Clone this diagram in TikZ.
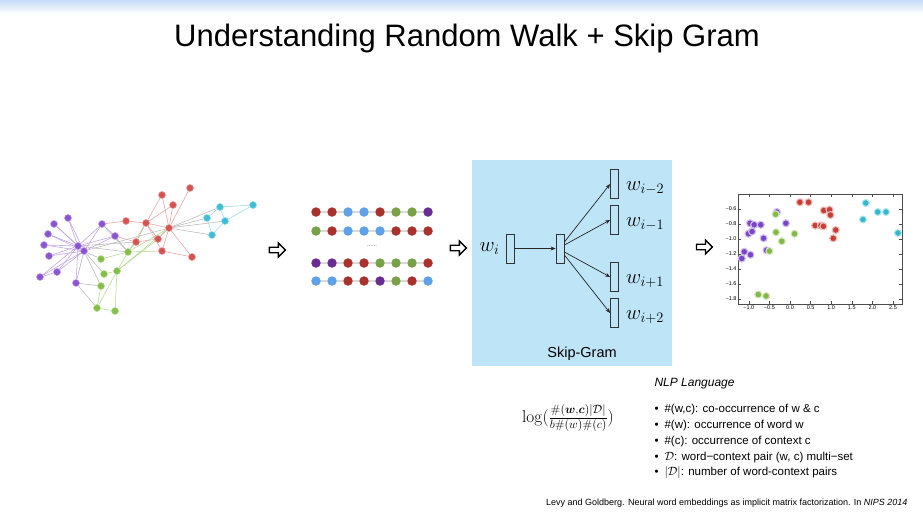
\documentclass[tikz,border=0pt]{standalone}
\usepackage{amsmath, amssymb, bm}
\usepackage[no-math]{fontspec}
\setmainfont{Liberation Sans}
\usepackage{tikz}
\usetikzlibrary{shapes.arrows, arrows.meta, positioning, calc, backgrounds}
\definecolor{gpurple}{RGB}{138,84,208}
\definecolor{gred}{RGB}{214,82,78}
\definecolor{gcyan}{RGB}{62,190,214}
\definecolor{ggreen}{RGB}{132,190,72}
\definecolor{sred}{RGB}{168,50,45}
\definecolor{sblue}{RGB}{96,160,230}
\definecolor{sgreen}{RGB}{122,160,74}
\definecolor{spurple}{RGB}{106,45,145}
\definecolor{ppurple}{RGB}{122,70,200}
\definecolor{pgreen}{RGB}{130,185,70}
\definecolor{pred}{RGB}{200,62,52}
\definecolor{pcyan}{RGB}{50,185,205}
\definecolor{boxblue}{RGB}{190,228,248}
\definecolor{topblue}{RGB}{198,220,248}

\begin{document}
\begin{tikzpicture}[x=1pt, y=-1pt,
    gnode/.style={circle, fill=#1, draw=#1!55!white, line width=0.6pt, inner sep=0pt, minimum size=7pt},
    gedge/.style={draw=#1, line width=0.55pt},
    sdot/.style={circle, fill=#1, inner sep=0pt, minimum size=9.5pt},
    seqline/.style={draw=gray!30, line width=2pt},
    pdot/.style={circle, fill=#1, draw=#1!35!white, line width=1.1pt, inner sep=0pt, minimum size=7pt},
    harrow/.style={single arrow, draw=black, fill=white, line width=1.3pt, minimum height=16pt,
      minimum width=14pt, single arrow head extend=2.5pt, inner sep=1pt},
    vec/.style={draw=black!80, line width=0.8pt, minimum width=8pt, minimum height=29pt, inner sep=0pt},
    link/.style={-{Stealth[length=5pt, width=4pt]}, line width=0.7pt, black!85},
    wlab/.style={font=\fontsize{21}{24}\selectfont, inner sep=0pt},
    every node/.style={font=\fontsize{11.5}{14}\selectfont}]
  \useasboundingbox (0,0) rectangle (923,515);
  \shade[top color=topblue, bottom color=white] (0,0) rectangle (923,14);
  \node[font=\fontsize{31}{36}\selectfont] (title) at (467,38) {Understanding Random Walk + Skip Gram};

  \foreach \n/\x/\y/\c in {pa/68/218/gpurple, pb/54/224/gpurple, pc/48/234/gpurple, pd/44/245/gpurple,
      pe/49/256/gpurple, pf/40/277/gpurple, pg/57/272/gpurple, ph/76/283/gpurple, h1/78/246/gpurple,
      h2/84/251/gpurple, pi/102/224/gpurple, pj/115/236/gpurple,
      ra/126/221/gred, rb/146/223/gred, rc/162/195/gred, rd/173/205/gred, re/190/188/gred,
      h3/169/228/gred, rf/158/239/gred, rg/136/242/gred, rh/162/251/gred, ri/192/257/gred,
      ca/220/207/gcyan, cb/253/205/gcyan, cc/207/218/gcyan, cd/225/221/gcyan, ce/212/235/gcyan,
      ga/128/252/ggreen, gb/101/259/ggreen, gc/117/271/ggreen, gd/104/274/ggreen, ge/101/286/ggreen,
      gf/97/308/ggreen, gg/115/311/ggreen}
    \node[gnode=\c] (\n) at (\x,\y) {};
  \begin{scope}[on background layer]
    \foreach \a/\b in {h1/pa, h1/pb, h1/pc, h1/pd, h1/pe, h1/pf, h1/pg, h1/ph, h1/pi, h1/pj, h2/pa, h2/pb,
        h2/pc, h2/pd, h2/pe, h2/pf, h2/pg, h2/ph, h2/pi, h2/pj, pf/pg, pi/pj}
      \draw[gedge=gpurple!55] (\a) -- (\b);
    \foreach \a/\b in {ra/rb, rb/rc, rb/h3, rb/rf, rb/rh, rb/rg, h3/rc, h3/rd, h3/re, h3/rf, h3/rh, h3/ri,
        rh/ri, rd/rb, rg/rf, ra/pi, rg/pj}
      \draw[gedge=gred!55] (\a) -- (\b);
    \foreach \a/\b in {ca/cb, ca/cc, ca/cd, cc/ce, cd/ce, cb/cd}
      \draw[gedge=gcyan!55] (\a) -- (\b);
    \foreach \a/\b in {ga/gb, ga/gc, gc/gf, gc/gg, gf/gg, gd/gc, ge/gf, ga/rh, ga/rb, ga/h3, gc/h3, gc/rf, ga/rg}
      \draw[gedge=ggreen!60] (\a) -- (\b);
    \foreach \a/\b in {h3/ca, h3/cc, h3/cd, h3/ce, h2/gb, h2/gd, h2/ge, h1/ga, h2/h3, ph/gf, ph/ge, pj/ga,
        h1/rg, pi/ga}
      \draw[gedge=gray!55] (\a) -- (\b);
  \end{scope}

  \node[harrow] (arr1) at (276,250) {};
  \node[harrow] (arr2) at (457,248) {};
  \node[harrow] (arr3) at (703,247) {};

  \foreach \y/\cols [count=\r] in {212/{sred,sred,sblue,sblue,sred,sgreen,sgreen,spurple},
      231/{sgreen,sred,sblue,sblue,sblue,sred,sred,sred},
      263/{spurple,spurple,sred,sred,sgreen,sgreen,sgreen,sred},
      281/{sblue,sblue,sred,sred,spurple,sgreen,sred,sblue}}
    \foreach \c [count=\k] in \cols
      \node[sdot=\c] (s\r-\k) at ({300+16*\k},\y) {};
  \begin{scope}[on background layer]
    \foreach \r in {1,...,4}
      \foreach \k [count=\n from 2] in {1,...,7}
        \draw[seqline] (s\r-\k) -- (s\r-\n);
  \end{scope}
  \node[font=\fontsize{6}{6}\selectfont, text=black!65] (gap) at (372,246) {......};

  \node[fill=boxblue, minimum width=200pt, minimum height=206pt, inner sep=0pt] (sgbox) at (572,263) {};
  \node[vec] (win) at (510,248.5) {};
  \node[vec] (hid) at (560,248.5) {};
  \node[vec] (o1) at (614.5,184) {};
  \node[vec] (o2) at (614.5,220) {};
  \node[vec] (o3) at (614.5,277) {};
  \node[vec] (o4) at (614.5,313) {};
  \draw[link] (win.east) -- (hid.west);
  \draw[link] ([yshift=6.5pt]hid.east) -- (o1.west);
  \draw[link] ([yshift=3.5pt]hid.east) -- (o2.west);
  \draw[link] ([yshift=-3.5pt]hid.east) -- (o3.west);
  \draw[link] ([yshift=-6.5pt]hid.east) -- (o4.west);
  \node[wlab, left=6pt of win] (lwi) {$w_i$};
  \node[wlab, right=7pt of o1, yshift=-4pt] (l1) {$w_{i-2}$};
  \node[wlab, right=7pt of o2, yshift=-4pt] (l2) {$w_{i-1}$};
  \node[wlab, right=7pt of o3, yshift=-4pt] (l3) {$w_{i+1}$};
  \node[wlab, right=7pt of o4, yshift=-4pt] (l4) {$w_{i+2}$};
  \node[font=\fontsize{14.5}{16}\selectfont] (sglabel) at (582,354) {Skip-Gram};

  \begin{scope}[xshift=790pt, yshift=-164pt, x=41.2pt, y=75pt,
      every node/.style={font=\fontsize{5.5}{6}\selectfont, inner sep=1.5pt}]
    \draw[black!70, line width=0.6pt] (-1.26,-1.87) rectangle (2.72,-0.40);
    \foreach \t/\l in {-1.0/−1.0, -0.5/−0.5, 0.0/0.0, 0.5/0.5, 1.0/1.0, 1.5/1.5, 2.0/2.0, 2.5/2.5} {
      \draw[black!70, line width=0.4pt] (\t,-1.87) -- ++(0,0.04) (\t,-0.40) -- ++(0,-0.04);
      \node[below] (xt\l) at (\t,-1.87) {\l};
    }
    \foreach \t/\l in {-0.6/−0.6, -0.8/−0.8, -1.0/−1.0, -1.2/−1.2, -1.4/−1.4, -1.6/−1.6, -1.8/−1.8} {
      \draw[black!70, line width=0.4pt] (-1.26,\t) -- ++(0.07,0) (2.72,\t) -- ++(-0.07,0);
      \node[left] (yt\l) at (-1.26,\t) {\l};
    }
    \foreach \x/\y [count=\i] in {-1.17/-1.26, -1.11/-1.17, -0.96/-1.21, -1.01/-0.93, -0.92/-0.90,
        -0.97/-0.79, -0.87/-0.81, -0.71/-0.81, -0.64/-0.99, -0.57/-1.15, -0.32/-0.64, -0.10/-0.79}
      \node[pdot=ppurple] (pp\i) at (\x,\y) {};
    \foreach \x/\y [count=\i] in {-0.35/-0.67, -0.34/-0.91, -0.20/-1.03, -0.50/-1.16, 0.11/-0.93,
        -0.77/-1.74, -0.58/-1.76}
      \node[pdot=pgreen] (pg\i) at (\x,\y) {};
    \foreach \x/\y [count=\i] in {0.24/-0.51, 0.45/-0.51, 0.82/-0.62, 0.96/-0.61, 0.98/-0.68,
        0.61/-0.82, 0.75/-0.82, 0.81/-0.83, 1.11/-0.88, 1.05/-0.99}
      \node[pdot=pred] (pr\i) at (\x,\y) {};
    \foreach \x/\y [count=\i] in {1.84/-0.52, 2.13/-0.64, 2.33/-0.64, 1.77/-0.74, 2.62/-0.92}
      \node[pdot=pcyan] (pc\i) at (\x,\y) {};
  \end{scope}

  \node[font=\fontsize{16.5}{18}\selectfont] (pmi) at (568,418)
    {$\log(\frac{\#(\bm{w},\bm{c})|\mathcal{D}|}{b\#(w)\#(c)})$};
  \node[anchor=west, font=\fontsize{12}{14}\selectfont\itshape] (nlp) at (651,384) {NLP Language};
  \foreach \t [count=\i] in {{\#(w,c): co-occurrence of w \& c}, {\#(w): occurrence of word w},
      {\#(c): occurrence of context c}, {$\mathcal{D}$: word−context pair (w, c) multi−set},
      {$|\mathcal{D}|$: number of word-context pairs}}
    \node[anchor=west] (item\i) at (651,{410+15.7*(\i-1)}) {\textbullet\hspace{6pt}\t};
  \node[anchor=east, font=\fontsize{9}{11}\selectfont] (cite) at (911,503)
    {Levy and Goldberg. Neural word embeddings as implicit matrix factorization. In \textit{NIPS 2014}};
\end{tikzpicture}
\end{document}
